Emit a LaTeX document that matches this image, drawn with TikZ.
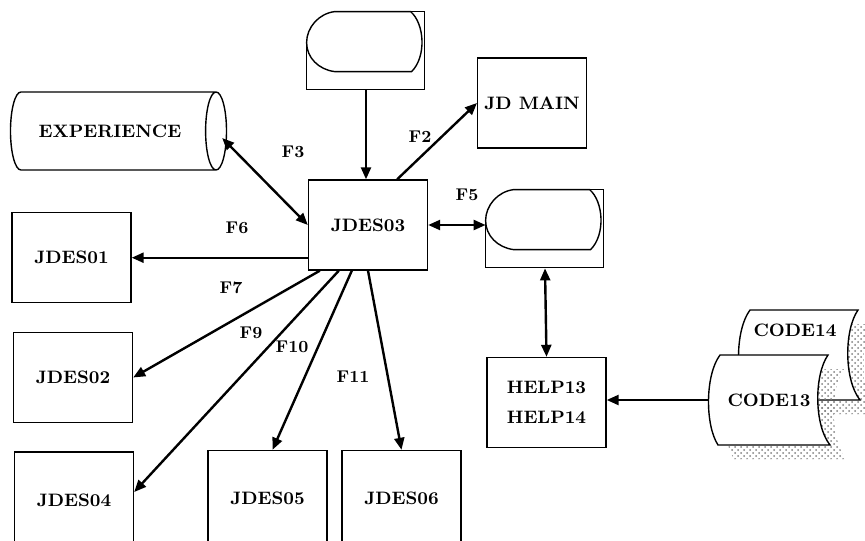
\documentclass[tikz,border=0pt]{standalone}
\usepackage{tikz}
\usetikzlibrary{arrows.meta,positioning,calc,shapes.geometric,patterns}

% outline of the code files (stored data), local units in px
\newcommand\tapepath{(12,0) -- (120,0) .. controls (106,20) and (106,70) .. (122,90)
  -- (10,90) .. controls (-3,70) and (-3,20) .. (12,0) -- cycle}

\begin{document}
\begin{tikzpicture}[x=0.5pt,y=-0.5pt,
  box/.style={draw,line width=0.7pt,minimum width=59.5pt,minimum height=45pt,
    font=\bfseries\fontsize{9}{11}\selectfont,align=center},
  hold/.style={minimum width=59pt,minimum height=39pt,inner sep=0pt},
  tape/.style={minimum width=61pt,minimum height=45pt,inner sep=0pt,
    font=\bfseries\fontsize{9}{11}\selectfont},
  lab/.style={font=\bfseries\fontsize{8.5}{10}\selectfont,inner sep=1pt},
  outl/.style={line width=0.7pt},
  dotshade/.style={pattern=crosshatch dots,pattern color=gray},
  flow/.style={-{Triangle[length=6pt,width=5pt]},line width=1.2pt},
  both/.style={{Triangle[length=6pt,width=5pt]}-{Triangle[length=6pt,width=5pt]},line width=1.2pt}]
\clip (0,0) rectangle (865,540);

% display symbols
\node[hold] (disp1) at (366,51) {};
\node[hold] (disp2) at (545,229) {};
\foreach \d in {disp1,disp2}{
  \begin{scope}[shift={(\d.north west)}]
    \draw[outl] (0,31) -- (0,78) -- (118,78) -- (118,0) -- (104,0);
    \draw[outl] (28,0) -- (104,0) .. controls (118,12) and (120,45) .. (105,60)
      -- (28,60) .. controls (12,58) and (0,46) .. (0,31)
      .. controls (0,16) and (12,2) .. (28,0) -- cycle;
  \end{scope}}

% code files with shadow
\begin{scope}[shift={(738,310)}]
  \path[dotshade,shift={(16,14)}] \tapepath;
  \filldraw[outl,fill=white] \tapepath;
\end{scope}
\node[font=\bfseries\fontsize{9}{11}\selectfont] (code14) at (795,330) {CODE14};
\begin{scope}[shift={(708,355)}]
  \path[dotshade,shift={(16,14)}] \tapepath;
  \filldraw[outl,fill=white] \tapepath;
\end{scope}
\node[tape] (code13) at (769,400) {CODE13};

\node[cylinder,draw,outl,minimum width=39pt,minimum height=108pt,aspect=0.8,
  font=\bfseries\fontsize{9}{11}\selectfont] (experience) at (110,131) {EXPERIENCE};

\node[box] (jdes03) at (368,225) {JDES03};
\node[box,minimum width=48pt] (jdmain) at (532,103) {JD MAIN};
\node[box] (jdes01) at (71.5,257.5) {JDES01};
\node[box] (jdes02) at (73,377.5) {JDES02};
\node[box,minimum height=48pt] (jdes04) at (74,500) {JDES04};
\node[box,minimum height=48pt] (jdes05) at (267.5,498.5) {JDES05};
\node[box,minimum height=48pt] (jdes06) at (401.5,498.5) {JDES06};
\node[box] (help) at (546.5,402.5) {HELP13\\[4pt]HELP14};

\node[lab] (f2) at (420,137) {F2};
\node[lab] (f3) at (293,152) {F3};
\node[lab] (f5) at (467,195) {F5};
\node[lab] (f6) at (237,228) {F6};
\node[lab] (f7) at (231,288) {F7};
\node[lab] (f9) at (251,333) {F9};
\node[lab] (f10) at (292,347) {F10};
\node[lab] (f11) at (353,377) {F11};

\draw[flow] (disp1.south) -- (disp1.south |- jdes03.north);
\draw[flow] ($(jdes03.north east)+(-31,0)$) -- (jdmain.west);
\draw[both] ($(experience.east)+(-5,7)$) -- (jdes03.west);
\draw[both] (jdes03.east) -- (jdes03.east -| disp2.west);
\draw[both] (disp2.south) -- (help.north);
\draw[flow] (code13.west) -- (code13.west -| help.east);
\coordinate (f6start) at ($(jdes03.south west)+(0,-13)$);
\draw[flow] (f6start) -- (f6start -| jdes01.east);
\draw[flow] ($(jdes03.south west)+(12,0)$) -- (jdes02.east);
\draw[flow] ($(jdes03.south west)+(31,0)$) -- ($(jdes04.east)+(0,-8)$);
\draw[flow] ($(jdes03.south west)+(44,0)$) -- ($(jdes05.north)+(5,0)$);
\draw[flow] (jdes03.south) -- (jdes06.north);
\end{tikzpicture}
\end{document}
